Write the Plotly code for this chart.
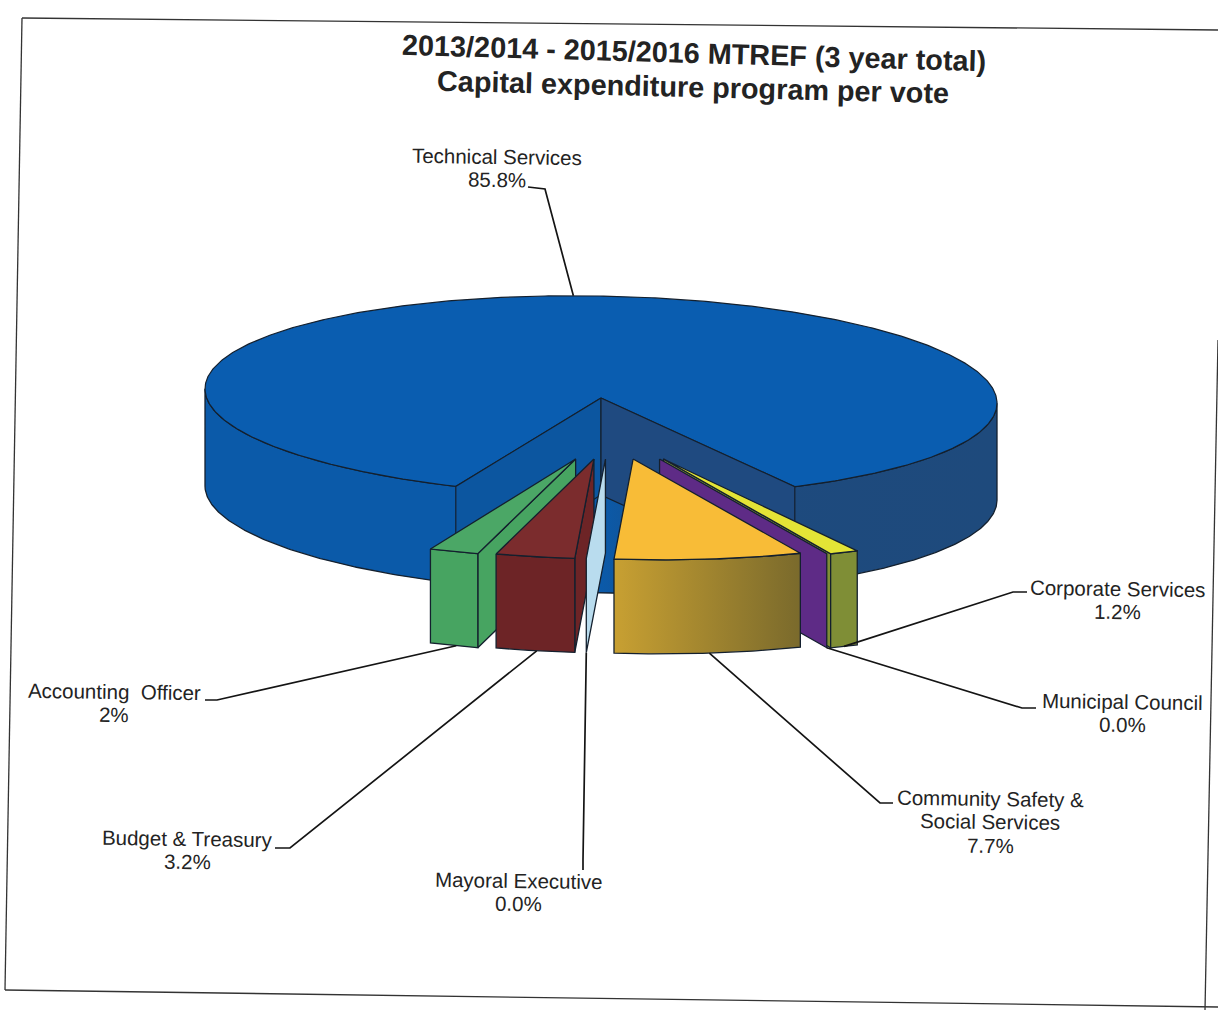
import numpy as np
import plotly.graph_objects as go

# Capital expenditure share per vote, in drawing order around the pie
votes = ["Technical Services", "Corporate Services", "Municipal Council",
         "Community Safety &<br>Social Services", "Mayoral Executive",
         "Budget & Treasury", "Accounting  Officer"]
shares = [85.8, 1.2, 0.0, 7.7, 0.0, 3.2, 2.0]
share_labels = ["85.8%", "1.2%", "0.0%", "7.7%", "0.0%", "3.2%", "2%"]

title_lines = ["2013/2014 - 2015/2016 MTREF (3 year total)",
               "Capital expenditure program per vote"]

# Pie projection settings (pixel space of the page)
CX, CY, RX, RY = 601, 396, 396, 100
DEPTH, SLICE_DEPTH = 97, 94
TILT = 0.018
START_ANGLE = 29.3      # front-facing angle where the first small slice begins
EXPLODE_Y, EXPLODE_X, EXPLODE_SHIFT = 63, 115, 10
OUTLINE = "#14202e"

SLICE_STYLE = {
    "Corporate Services": dict(top="#e3e436", wall="#7f8e36"),
    "Municipal Council": dict(top="#5e2b86", wall="#5e2b86"),
    "Community Safety &<br>Social Services": dict(top="#f8bc37", wall=("#c8a032", "#7a6a2c")),
    "Mayoral Executive": dict(top="#b9dcee", wall="#b9dcee"),
    "Budget & Treasury": dict(top="#7b2c2d", wall="#6d2426"),
    "Accounting  Officer": dict(top="#4ba766", wall="#47a461"),
}

# Label placement: text centre x, first line y, leader elbow and rim anchor
LABELS = {
    "Technical Services": dict(x=497, y=156, start=(528, 187), elbow=(545, 189), t=0.5),
    "Corporate Services": dict(x=1117, y=588, start=(1027, 592), elbow=(1013, 592), t=0.5),
    "Municipal Council": dict(x=1122, y=701, start=(1036, 708), elbow=(1022, 708), t=1.0),
    "Community Safety &<br>Social Services": dict(x=990, y=798, start=(893, 803), elbow=(880, 803), t=0.5),
    "Mayoral Executive": dict(x=518, y=880, start=(583, 870), elbow=(583, 860), t=0.0),
    "Budget & Treasury": dict(x=187, y=838, start=(275, 848), elbow=(290, 848), t=0.48),
    "Accounting  Officer": dict(x=114, y=691, start=(205, 700), elbow=(217, 700), t=0.45),
}


def project(ax, ay, angle_deg, drop=0.0):
    """Point on a rim of radius 1 around (ax, ay); angle 0 faces the viewer."""
    a = np.radians(angle_deg)
    x = ax + RX * np.sin(a)
    y = ay + RY * np.cos(a) + drop
    return x, y + (x - CX) * TILT


def apex_of(mid_angle):
    x = CX + EXPLODE_SHIFT + EXPLODE_X * np.sin(np.radians(mid_angle))
    return x, CY + EXPLODE_Y


def poly(fig, xs, ys, fill, line=OUTLINE, width=1.3):
    style = dict(fillcolor=fill) if isinstance(fill, str) else dict(fillgradient=fill)
    fig.add_trace(go.Scatter(x=list(xs), y=list(ys), mode="lines", fill="toself",
                             line=dict(color=line, width=width), hoverinfo="skip",
                             showlegend=False, **style))


def horizontal(*stops):
    return dict(type="horizontal", colorscale=[[p, c] for p, c in stops])


def rim(ax, ay, a0, a1, drop=0.0):
    ang = np.linspace(a0, a1, max(2, int(abs(a1 - a0) * 2) + 2))
    return project(ax, ay, ang, drop)


def side_face(fig, ax, ay, angle, color):
    ox, oy = project(ax, ay, angle)
    bx, by = project(ax, ay, angle, SLICE_DEPTH)
    poly(fig, [ax, ox, bx, ax, ax], [ay, oy, by, ay + SLICE_DEPTH, ay], color)


def draw_slice(fig, name, a_low, a_high):
    """Exploded wedge spanning a_low..a_high, with whichever faces look at the viewer."""
    st = SLICE_STYLE[name]
    ax, ay = apex_of((a_low + a_high) / 2)
    wall = st["wall"]
    if a_high <= 0:
        side_face(fig, ax, ay, a_high, wall if isinstance(wall, str) else wall[0])
    if a_low >= 0:
        side_face(fig, ax, ay, a_low, SLICE_STYLE["Municipal Council"]["wall"] if a_low == a_high else st["wall"])
    if a_high > a_low:
        tx, ty = rim(ax, ay, a_low, a_high)
        bx, by = rim(ax, ay, a_high, a_low, SLICE_DEPTH)
        fill = wall if isinstance(wall, str) else horizontal((0, wall[0]), (1, wall[1]))
        poly(fig, np.r_[tx, bx, tx[0]], np.r_[ty, by, ty[0]], fill)
        poly(fig, np.r_[ax, tx, ax], np.r_[ay, ty, ay], st["top"])
    return ax, ay


fig = go.Figure()

# Angular spans: small slices run from START_ANGLE towards the left of the front
total = sum(shares)
sweeps = [s / total * 360 for s in shares]
spans = {}
cursor = START_ANGLE
for name, sweep in list(zip(votes, sweeps))[1:]:
    spans[name] = (cursor - sweep, cursor)
    cursor -= sweep
blue_start, blue_end = START_ANGLE, START_ANGLE + sweeps[0]

# Main slice: outer wall, top face, then the two cut walls
wx, wy = rim(CX, CY, -90, 90)
bx, by = rim(CX, CY, 90, -90, DEPTH)
poly(fig, np.r_[wx, bx, wx[0]], np.r_[wy, by, wy[0]],
     horizontal((0, "#0b5aa9"), (0.5, "#0b5aa9"), (0.62, "#1d4a7e"), (1, "#1e4a7c")))
tx, ty = rim(CX, CY, blue_start, blue_end)
poly(fig, np.r_[CX, tx, CX], np.r_[CY + 2, ty, CY + 2], "#0a5db0", width=1.2)
for edge, color in ((blue_end - 360, "#0c56a0"), (blue_start, "#1f4a80")):
    ox, oy = project(CX, CY, edge)
    px, py = project(CX, CY, edge, DEPTH)
    poly(fig, [CX, ox, px, CX, CX], [CY + 2, oy, py, CY + 2 + DEPTH, CY + 2], color, width=1.2)

# Painter's order: outer-left slices first, the wide front slice last
for name in ["Accounting  Officer", "Budget & Treasury", "Mayoral Executive",
             "Corporate Services", "Municipal Council",
             "Community Safety &<br>Social Services"]:
    draw_slice(fig, name, *spans[name])

# Leader lines run from each label to the bottom rim of its slice
for name in votes:
    lab = LABELS[name]
    if name == votes[0]:
        end = project(CX, CY, 184)
    else:
        a_low, a_high = spans[name]
        ax, ay = apex_of((a_low + a_high) / 2)
        end = project(ax, ay, a_high + lab["t"] * (a_low - a_high), SLICE_DEPTH)
    xs, ys = zip(lab["start"], lab["elbow"], end)
    fig.add_trace(go.Scatter(x=xs, y=ys, mode="lines", hoverinfo="skip", showlegend=False,
                             line=dict(color="#141414", width=1.7)))


def text(x, y, s, size, bold=False, angle=0.8):
    fig.add_annotation(x=x, y=y, text=f"<b>{s}</b>" if bold else s, showarrow=False,
                       textangle=angle, xanchor="center", yanchor="middle",
                       font=dict(family="Liberation Sans", size=size, color="#232323"))


text(694, 53, title_lines[0], 28.8, bold=True, angle=1.6)
text(693, 87, title_lines[1], 28.8, bold=True, angle=1.4)

for name, value in zip(votes, share_labels):
    lab = LABELS[name]
    lines = name.split("<br>") + [value]
    for i, line in enumerate(lines):
        text(lab["x"], lab["y"] + i * 23.5, line, 20.5)

# Slightly skewed page frame around the chart
frame = [((22, 18), (1218, 30)), ((22, 18), (5, 990)),
         ((5, 990), (1218, 1007)), ((1218, 340), (1205, 1010))]
shapes = [dict(type="line", x0=a[0], y0=a[1], x1=b[0], y1=b[1],
               line=dict(color="#333333", width=1.3), layer="below") for a, b in frame]

fig.update_layout(
    width=1218, height=1010, autosize=False, margin=dict(l=0, r=0, t=0, b=0),
    paper_bgcolor="white", plot_bgcolor="white", showlegend=False, shapes=shapes,
    xaxis=dict(range=[0, 1218], visible=False, fixedrange=True),
    yaxis=dict(range=[1010, 0], visible=False, fixedrange=True),
)
fig.write_html("out.html", config=dict(displayModeBar=False))
